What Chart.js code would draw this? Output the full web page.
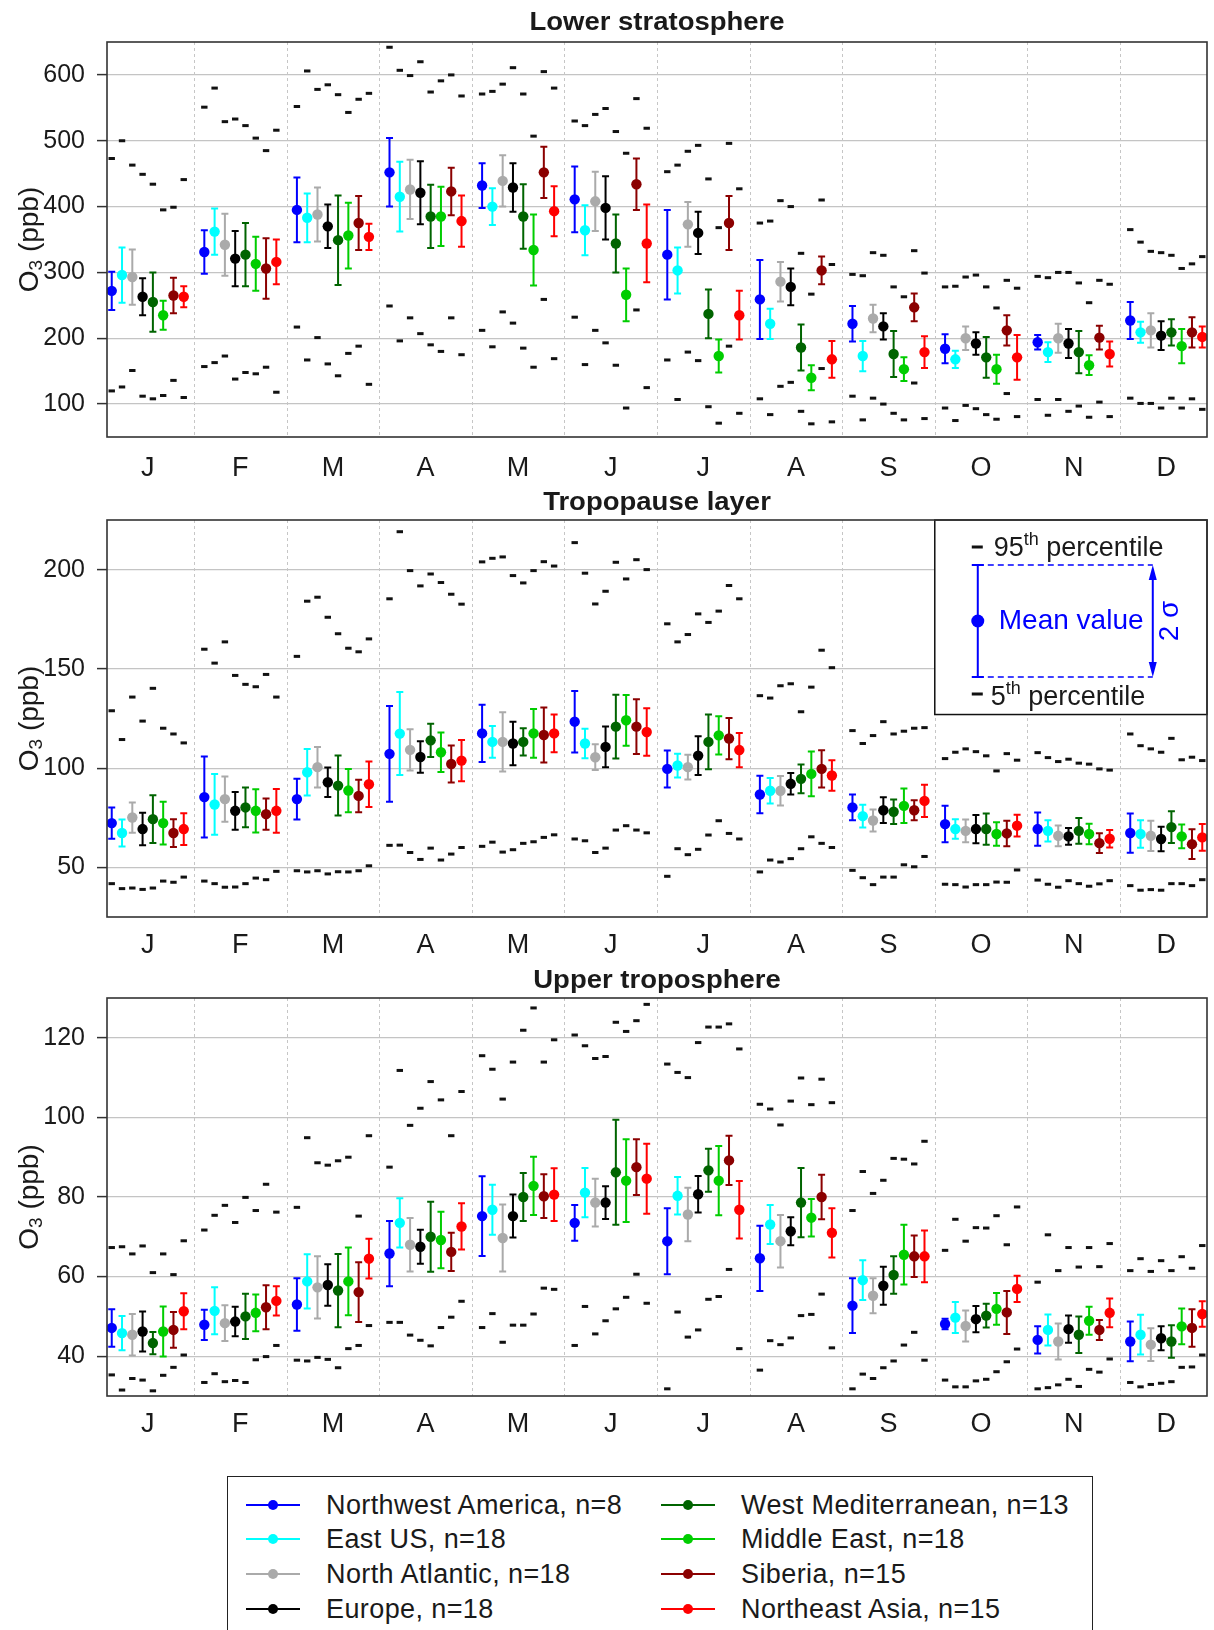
<!DOCTYPE html>
<html><head><meta charset="utf-8">
<script src="https://cdn.jsdelivr.net/npm/chart.js@4.4.1/dist/chart.umd.min.js"></script>
<style>
html,body{margin:0;padding:0;background:#fff;width:1214px;height:1630px;overflow:hidden;font-family:"Liberation Sans",Arial,sans-serif;}
canvas{position:absolute;left:0;}
#legend{position:absolute;left:227px;top:1476px;width:866px;height:180px;border:1.5px solid #222;box-sizing:border-box;background:#fff;}
.item{position:absolute;height:30px;display:flex;align-items:center;font-size:27px;letter-spacing:0.4px;color:#1a1a1a;white-space:nowrap;}
.item svg{margin-right:26px;}
</style></head><body>
<canvas id="c1" width="1214" height="490" style="top:0px"></canvas>
<canvas id="c2" width="1214" height="470" style="top:490px"></canvas>
<canvas id="c3" width="1214" height="500" style="top:960px"></canvas>
<div id="legend"></div>
<script>
// ---------------- data ----------------
const MONTHS = ['J','F','M','A','M','J','J','A','S','O','N','D'];
const REGIONS = ['Northwest America, n=8','East US, n=18','North Atlantic, n=18','Europe, n=18',
                 'West Mediterranean, n=13','Middle East, n=18','Siberia, n=15','Northeast Asia, n=15'];
const COLORS = ['#0000ff','#00ffff','#aaaaaa','#000000','#006400','#00cd00','#8b0000','#ff0000'];

const TITLES = ['Lower stratosphere','Tropopause layer','Upper troposphere'];
const LS_TICKS = [100,200,300,400,500,600];
const TL_TICKS = [50,100,150,200];
const UT_TICKS = [40,60,80,100,120];

// Lower stratosphere (rows = regions, cols = months)
const LS_MEAN = [
 [272,331,395,452,432,411,327,259,222,184,194,227],
 [296,362,383,415,400,364,303,222,173,168,179,209],
 [293,342,388,426,439,408,373,286,230,200,200,212],
 [263,321,370,421,429,398,360,278,218,192,192,204],
 [255,327,349,385,385,344,237,186,176,171,179,209],
 [235,313,356,385,334,266,173,140,153,153,159,188],
 [265,306,375,423,452,434,375,303,247,212,201,209],
 [263,316,354,378,393,344,235,168,179,171,176,202]];
const LS_SD = [
 [29,33,49,52,34,50,68,60,27,22,11,28],
 [42,35,37,53,28,38,35,23,23,13,15,16],
 [42,47,41,45,39,45,34,30,21,18,22,26],
 [28,42,33,48,37,48,32,28,20,17,22,22],
 [45,48,68,48,49,44,37,35,35,31,32,20],
 [22,41,50,45,54,40,25,19,18,22,15,26],
 [27,46,41,36,39,39,41,21,21,23,18,23],
 [16,34,20,39,38,59,37,28,24,34,19,16]];
const LS_P95 = [
 [473,551,552,642,571,530,453,375,297,278,294,365],
 [500,580,606,607,575,523,463,378,295,279,292,346],
 [463,529,578,599,586,540,484,409,330,293,300,332],
 [449,533,585,620,611,549,493,400,326,296,300,330],
 [434,523,570,574,571,514,442,329,278,278,284,326],
 [395,504,543,591,507,481,368,267,263,246,254,306],
 [399,485,563,600,605,564,496,410,333,288,288,313],
 [441,516,572,568,580,519,427,312,299,276,282,324]];
const LS_P5 = [
 [120,157,217,249,212,232,167,108,112,94,107,109],
 [126,163,167,196,187,160,107,84,76,75,83,101],
 [151,173,201,231,240,212,179,127,109,98,107,101],
 [112,138,161,207,223,193,166,133,100,93,89,94],
 [108,148,143,190,185,159,96,89,86,84,97,109],
 [113,146,177,180,156,94,71,70,76,77,80,94],
 [136,156,188,231,259,243,188,154,132,116,103,108],
 [110,118,130,175,169,125,86,73,78,81,81,92]];

// Tropopause layer
const TL_MEAN = [
 [72.3,85.4,84.4,107.2,117.5,123.4,99.6,86.7,80.2,71.8,69.3,67.3],
 [67.3,81.7,97.9,117.4,113.2,112.4,101.3,88.6,75.8,69.3,68.4,66.8],
 [75.1,84.4,100.5,109.2,113.2,105.5,100.5,88.6,73.6,68.4,65.9,65.9],
 [69.3,78.5,92.9,105.6,112.4,110.7,106.3,92.1,78.8,69.3,65.6,64.3],
 [74.3,80.2,91.2,114.0,113.2,120.9,113.2,94.6,78.0,69.3,68.4,70.3],
 [72.3,78.5,88.7,108.0,117.5,124.1,116.5,97.1,81.0,66.8,66.8,65.6],
 [67.3,76.8,86.0,102.1,116.7,120.9,114.9,99.6,78.8,67.1,62.2,61.7],
 [69.3,78.5,91.9,103.8,117.5,118.2,109.1,96.3,83.5,71.0,64.4,65.1]];
const TL_SD = [
 [7.9,20.4,10.3,24.1,14.4,15.5,9.3,9.4,6.5,9.2,8.4,9.9],
 [6.8,15.3,11.7,20.9,8.0,7.4,6.0,6.4,5.7,4.9,5.4,6.9],
 [7.6,11.4,10.2,10.4,14.9,6.5,6.2,7.4,5.5,5.7,5.2,7.6],
 [8.2,9.5,7.4,7.9,11.0,10.3,9.8,5.4,6.5,7.1,4.2,6.2],
 [12.0,10.0,15.1,8.4,6.9,16.1,13.8,7.2,6.2,7.9,6.5,8.0],
 [10.8,10.9,10.9,10.0,12.3,12.8,9.6,11.3,8.7,5.9,5.2,6.0],
 [7.0,7.9,8.2,9.3,13.9,13.8,10.4,9.4,5.0,6.4,5.0,7.5],
 [8.0,11.0,11.5,10.4,9.5,12.0,8.6,7.7,8.1,5.5,4.4,6.7]];
const TL_P95 = [
 [128.9,159.9,156.3,185.3,203.9,213.6,172.7,136.5,118.9,104.8,107.8,117.2],
 [114.4,152.9,184.1,219.1,205.7,198.2,163.6,135.3,112.4,108.0,105.3,111.3],
 [135.8,163.6,186.1,199.5,206.4,182.7,167.3,141.5,116.4,109.7,103.3,109.7],
 [123.7,146.7,176.0,191.8,197.0,189.1,177.7,142.5,123.4,108.3,104.5,108.0],
 [140.2,142.2,167.7,197.8,193.3,203.7,173.4,128.4,117.2,106.2,102.5,115.0],
 [120.1,141.0,160.4,193.5,199.5,195.3,179.1,140.8,118.6,98.6,102.0,104.2],
 [117.2,147.2,158.6,187.6,204.0,205.0,192.0,159.4,120.1,107.3,99.6,105.5],
 [112.7,135.8,165.1,182.6,201.8,200.0,185.3,150.6,120.4,104.0,99.0,103.8]];
const TL_P5 = [
 [41.8,43.1,48.3,61.1,60.6,64.3,45.5,47.7,48.5,41.5,43.6,40.8],
 [39.3,41.8,47.7,61.2,62.7,63.4,59.4,53.7,44.8,41.3,41.5,38.5],
 [39.6,40.0,48.3,57.5,57.7,57.5,56.4,52.7,41.3,40.1,40.0,38.8],
 [38.9,40.1,46.7,54.0,58.9,59.7,59.1,54.4,45.1,41.3,43.3,38.5],
 [39.6,41.8,47.8,59.7,62.1,68.8,66.3,59.4,45.1,41.3,41.8,41.8],
 [43.1,44.6,47.7,53.7,62.9,71.0,73.5,65.4,51.3,42.6,40.5,41.8],
 [42.5,43.8,48.3,56.7,65.1,68.8,67.1,62.1,50.3,42.5,41.7,40.8],
 [45.1,48.0,50.8,60.0,66.4,67.4,64.3,60.0,55.5,48.7,43.3,43.8]];

// Upper troposphere
const UT_MEAN = [
 [47.1,47.9,53.0,65.8,75.2,73.5,68.9,64.6,52.7,48.1,44.1,43.7],
 [45.8,51.4,58.8,73.5,76.8,81.1,80.3,73.1,59.1,49.7,46.6,45.4],
 [45.4,48.3,57.3,68.0,69.7,78.6,75.6,68.9,55.2,47.6,43.7,42.9],
 [46.2,48.7,57.9,67.5,75.2,78.6,80.7,71.4,57.7,49.3,46.8,44.5],
 [43.3,50.0,56.5,70.0,80.0,86.2,86.7,78.6,60.4,50.2,45.4,43.7],
 [46.2,50.9,58.8,69.2,82.8,84.1,84.1,74.8,65.5,51.9,48.9,47.5],
 [46.6,52.3,56.1,66.2,80.2,87.5,89.2,80.0,65.1,51.0,46.6,47.1],
 [51.3,53.9,64.5,72.6,80.6,84.6,76.8,71.0,65.1,56.9,50.9,50.6]];
const UT_SD = [
 [4.7,3.8,6.6,8.2,10.0,4.5,8.3,8.2,6.9,1.3,3.4,5.0],
 [4.3,5.9,6.8,6.2,6.3,6.2,4.7,4.9,5.0,3.9,3.9,5.0],
 [5.2,4.5,7.8,6.7,8.4,6.0,6.7,6.6,4.4,3.9,4.5,4.1],
 [5.0,3.7,5.2,4.3,5.4,4.1,4.6,3.5,4.8,3.3,3.4,3.0],
 [2.8,5.7,9.2,8.8,6.0,13.2,5.4,8.7,4.7,3.0,4.6,4.1],
 [6.3,4.6,8.5,7.1,7.3,10.4,8.7,4.7,7.5,4.0,3.5,4.5],
 [4.5,5.5,7.5,4.8,5.5,7.0,6.2,5.6,5.2,5.4,2.5,4.7],
 [4.5,3.7,5.0,5.8,6.6,8.8,7.2,6.2,6.5,3.3,3.6,3.2]];
const UT_P95 = [
 [67.3,71.7,77.4,87.5,115.5,120.7,113.4,103.3,76.6,66.6,58.6,61.5],
 [67.5,75.4,94.9,111.8,112.1,118.0,111.3,102.1,86.4,74.4,70.5,64.5],
 [65.7,77.9,88.6,98.0,104.6,114.8,110.0,98.1,80.9,68.9,61.5,61.3],
 [67.7,73.6,88.0,102.3,113.9,115.3,118.8,104.1,84.2,72.3,67.3,64.0],
 [61.0,79.9,89.1,109.0,121.9,123.9,122.7,109.9,89.7,72.2,62.4,61.5],
 [65.7,76.6,90.0,104.4,127.5,121.6,122.7,103.2,89.5,75.3,67.3,65.0],
 [60.5,83.2,75.2,95.4,113.9,124.3,123.5,109.6,88.3,68.0,62.5,62.1],
 [69.0,76.2,95.4,106.5,119.5,128.4,117.2,103.7,94.0,77.5,68.3,67.8]];
const UT_P5 = [
 [35.3,33.4,39.0,48.5,47.2,42.7,31.8,36.5,31.8,34.0,31.8,33.4],
 [31.5,35.6,38.8,48.5,50.7,52.5,51.1,43.9,35.5,32.3,32.1,32.3],
 [34.4,33.6,39.7,45.3,43.5,45.6,44.8,42.9,34.4,32.3,32.8,32.9],
 [34.0,33.9,39.2,44.0,47.8,48.9,46.6,44.6,37.1,33.8,34.2,33.2],
 [31.3,33.4,37.1,42.6,47.8,51.9,54.3,50.2,38.8,34.2,32.4,33.6],
 [35.2,39.1,41.9,47.2,50.6,54.8,55.0,50.5,42.8,36.1,36.7,37.2],
 [37.2,39.9,42.7,49.8,57.1,60.6,61.8,55.6,46.0,38.6,36.0,37.3],
 [40.3,42.7,47.7,53.8,56.8,53.3,41.9,42.1,39.0,41.8,39.3,40.3]];

// ---------------- drawing ----------------
const FONT = '"Liberation Sans", Arial, sans-serif';
const TXT = '#1a1a1a';

function drawSup(ctx, a, sup, b, x, y) {
  ctx.font = `27px ${FONT}`; ctx.fillText(a, x, y);
  let w = ctx.measureText(a).width;
  ctx.font = `18px ${FONT}`; ctx.fillText(sup, x + w, y - 9);
  w += ctx.measureText(sup).width;
  ctx.font = `27px ${FONT}`; ctx.fillText(b, x + w, y);
}

function drawInset(chart) {
  const {ctx, chartArea: a, scales: {x, y}} = chart;
  const bx = x.getPixelForValue(9), by = a.top, br = a.right, bb = y.getPixelForValue(127);
  ctx.save();
  ctx.fillStyle = '#fff'; ctx.fillRect(bx, by, br - bx, bb - by);
  ctx.strokeStyle = '#111'; ctx.lineWidth = 1.5; ctx.strokeRect(bx, by, br - bx, bb - by);
  const ex = bx + 43, yt = by + 45, yb = by + 157, ym = by + 101, axp = bx + 218;
  ctx.strokeStyle = '#0000ff'; ctx.fillStyle = '#0000ff';
  ctx.lineWidth = 1.5; ctx.setLineDash([6, 4]);
  ctx.beginPath(); ctx.moveTo(ex, yt); ctx.lineTo(axp, yt); ctx.moveTo(ex, yb); ctx.lineTo(axp, yb); ctx.stroke();
  ctx.setLineDash([]);
  ctx.lineWidth = 2;
  ctx.beginPath(); ctx.moveTo(ex, yt); ctx.lineTo(ex, yb);
  ctx.moveTo(ex - 6, yt); ctx.lineTo(ex + 6, yt); ctx.moveTo(ex - 6, yb); ctx.lineTo(ex + 6, yb); ctx.stroke();
  ctx.beginPath(); ctx.arc(ex, ym, 6.5, 0, 2 * Math.PI); ctx.fill();
  ctx.beginPath(); ctx.moveTo(axp, yt + 12); ctx.lineTo(axp, yb - 12); ctx.stroke();
  ctx.beginPath(); ctx.moveTo(axp, yt); ctx.lineTo(axp - 4, yt + 15); ctx.lineTo(axp + 4, yt + 15); ctx.closePath(); ctx.fill();
  ctx.beginPath(); ctx.moveTo(axp, yb); ctx.lineTo(axp - 4, yb - 15); ctx.lineTo(axp + 4, yb - 15); ctx.closePath(); ctx.fill();
  ctx.font = `28px ${FONT}`; ctx.textBaseline = 'middle'; ctx.textAlign = 'left';
  ctx.fillText('Mean value', bx + 64, ym);
  ctx.save(); ctx.translate(bx + 236, ym); ctx.rotate(-Math.PI / 2); ctx.textAlign = 'center';
  ctx.font = `28px ${FONT}`; ctx.fillText('2 σ', 0, 0); ctx.restore();
  ctx.fillStyle = TXT; ctx.strokeStyle = '#111'; ctx.lineWidth = 3;
  ctx.beginPath(); ctx.moveTo(bx + 37, by + 27); ctx.lineTo(bx + 48, by + 27);
  ctx.moveTo(bx + 37, by + 174); ctx.lineTo(bx + 48, by + 174); ctx.stroke();
  drawSup(ctx, '95', 'th', ' percentile', bx + 59, by + 29);
  drawSup(ctx, '5', 'th', ' percentile', bx + 56, by + 178);
  ctx.restore();
}

function makePanel(id, P) {
  const datasets = [];
  const pct = [];
  for (let r = 0; r < REGIONS.length; r++) {
    for (let m = 0; m < MONTHS.length; m++) {
      const xv = m + (r + 1) / 9;
      pct.push({x: xv, y: P.p95[r][m]}, {x: xv, y: P.p5[r][m]});
    }
  }
  datasets.push({label: 'percentiles', data: pct, showLine: false, pointStyle: 'line',
    pointRadius: 3.2, pointBorderWidth: 3, pointBorderColor: '#111', pointBackgroundColor: '#111', order: 50});
  REGIONS.forEach((name, r) => {
    datasets.push({label: name, data: MONTHS.map((_, m) => ({x: m + (r + 1) / 9, y: P.mean[r][m]})),
      showLine: false, pointRadius: 5.2, pointBorderWidth: 0,
      pointBackgroundColor: COLORS[r], pointBorderColor: COLORS[r], order: 10});
  });

  const deco = {
    id: 'deco' + id,
    beforeDatasetsDraw(chart) {
      const {ctx, chartArea: a, scales: {x, y}} = chart;
      ctx.save();
      ctx.strokeStyle = '#c6c6c6'; ctx.lineWidth = 1; ctx.setLineDash([3, 3]);
      for (let m = 1; m < MONTHS.length; m++) {
        const px = Math.round(x.getPixelForValue(m)) + 0.5;
        ctx.beginPath(); ctx.moveTo(px, a.top); ctx.lineTo(px, a.bottom); ctx.stroke();
      }
      ctx.setLineDash([]);
      ctx.lineWidth = 2; ctx.lineCap = 'butt';
      for (let r = 0; r < REGIONS.length; r++) {
        const meta = chart.getDatasetMeta(r + 1);
        ctx.strokeStyle = COLORS[r];
        meta.data.forEach((pt, m) => {
          const v = P.mean[r][m], s = P.sd[r][m];
          const yt = y.getPixelForValue(v + s), yb = y.getPixelForValue(v - s);
          ctx.beginPath();
          ctx.moveTo(pt.x, yt); ctx.lineTo(pt.x, yb);
          ctx.moveTo(pt.x - 3.5, yt); ctx.lineTo(pt.x + 3.5, yt);
          ctx.moveTo(pt.x - 3.5, yb); ctx.lineTo(pt.x + 3.5, yb);
          ctx.stroke();
        });
      }
      ctx.restore();
    },
    afterDatasetsDraw(chart) {
      if (P.inset) drawInset(chart);
    },
    afterDraw(chart) {
      const {ctx, chartArea: a} = chart;
      ctx.save();
      ctx.strokeStyle = '#333'; ctx.lineWidth = 1.6;
      ctx.strokeRect(a.left, a.top, a.right - a.left, a.bottom - a.top);
      // panel title
      ctx.fillStyle = TXT; ctx.textAlign = 'center'; ctx.textBaseline = 'middle';
      ctx.save(); ctx.translate((a.left + a.right) / 2, P.titleY); ctx.scale(1.1, 1);
      ctx.font = `bold 25px ${FONT}`; ctx.fillText(P.title, 0, 0); ctx.restore();
      // y-axis title  O3 (ppb)
      ctx.save(); ctx.translate(30, (a.top + a.bottom) / 2); ctx.rotate(-Math.PI / 2);
      ctx.textAlign = 'left';
      ctx.font = `28px ${FONT}`; const w1 = ctx.measureText('O').width, w3 = ctx.measureText(' (ppb)').width;
      ctx.font = `19px ${FONT}`; const w2 = ctx.measureText('3').width;
      const sx = -(w1 + w2 + w3) / 2;
      ctx.font = `28px ${FONT}`; ctx.fillText('O', sx, 0);
      ctx.font = `19px ${FONT}`; ctx.fillText('3', sx + w1, 7);
      ctx.font = `28px ${FONT}`; ctx.fillText(' (ppb)', sx + w1 + w2, 0);
      ctx.restore();
      ctx.restore();
    }
  };

  new Chart(document.getElementById(id), {
    type: 'scatter',
    data: {datasets},
    options: {
      responsive: false, animation: false, events: [],
      layout: {padding: {top: P.padTop, left: 0, right: 2, bottom: 0}},
      plugins: {legend: {display: false}, tooltip: {enabled: false}, title: {display: false}},
      scales: {
        x: {
          type: 'linear', min: 0.06, max: 11.94,
          afterBuildTicks: ax => { ax.ticks = MONTHS.map((_, i) => ({value: i + 0.5})); },
          afterFit: ax => { ax.height = P.xAxisH; },
          ticks: {callback: (v, i) => MONTHS[i], autoSkip: false, maxRotation: 0, minRotation: 0,
                  color: TXT, padding: P.labelPad, font: {size: 27, family: FONT}},
          grid: {display: false, drawTicks: false},
          border: {display: false}
        },
        y: {
          type: 'linear', min: P.min, max: P.max,
          afterBuildTicks: ax => { ax.ticks = P.ticks.map(v => ({value: v})); },
          afterFit: ax => { ax.width = 107; },
          ticks: {color: TXT, padding: 12, font: {size: 25, family: FONT}},
          grid: {color: '#c4c4c4', lineWidth: 1.2, drawTicks: true, tickLength: 10, tickColor: '#333', tickWidth: 1.5},
          border: {display: false}
        }
      }
    },
    plugins: [deco]
  });
}

makePanel('c1', {title: TITLES[0], mean: LS_MEAN, sd: LS_SD, p95: LS_P95, p5: LS_P5, ticks: LS_TICKS,
  min: 50, max: 650, padTop: 42, xAxisH: 53, titleY: 23, labelPad: 15, inset: false});
makePanel('c2', {title: TITLES[1], mean: TL_MEAN, sd: TL_SD, p95: TL_P95, p5: TL_P5, ticks: TL_TICKS,
  min: 25, max: 225, padTop: 30, xAxisH: 43, titleY: 13, labelPad: 12, inset: true});
makePanel('c3', {title: TITLES[2], mean: UT_MEAN, sd: UT_SD, p95: UT_P95, p5: UT_P5, ticks: UT_TICKS,
  min: 30, max: 130, padTop: 38, xAxisH: 64, titleY: 21, labelPad: 12, inset: false});

// ---------------- legend ----------------
const leg = document.getElementById('legend');
const ROW_Y = [13, 47, 82, 117];
REGIONS.forEach((name, r) => {
  const col = r < 4 ? 0 : 1, row = r % 4;
  const d = document.createElement('div');
  d.className = 'item';
  d.style.left = (col === 0 ? 18 : 433) + 'px';
  d.style.top = ROW_Y[row] + 'px';
  d.innerHTML = `<svg width="54" height="14"><line x1="0" y1="7" x2="54" y2="7" stroke="${COLORS[r]}" stroke-width="2"/>` +
    `<circle cx="27" cy="7" r="5" fill="${COLORS[r]}"/></svg><span>${name}</span>`;
  leg.appendChild(d);
});
</script>
</body></html>
